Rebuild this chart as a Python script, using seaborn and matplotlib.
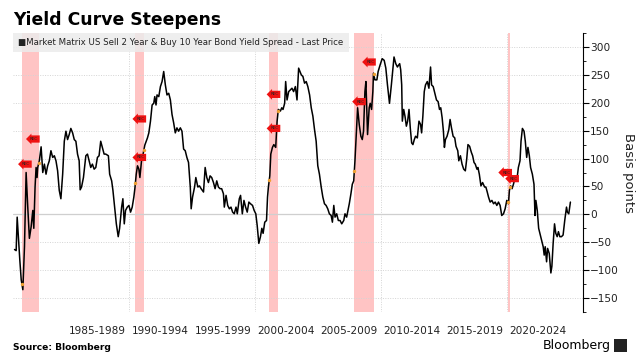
import numpy as np
import matplotlib
matplotlib.use("Agg")
import matplotlib.pyplot as plt
from matplotlib.patches import FancyBboxPatch, Rectangle
import seaborn as sns

# 2s10s spread, decimal years / basis points
yr_1980s = [1980.95, 1981.08, 1981.16, 1981.27, 1981.37, 1981.48, 1981.61, 1981.74, 1981.87, 1982.00,
            1982.13, 1982.27, 1982.40, 1982.48, 1982.58, 1982.66, 1982.74, 1982.79, 1982.92, 1983.06,
            1983.19, 1983.32, 1983.45, 1983.58, 1983.71, 1983.84, 1983.98, 1984.11, 1984.24, 1984.37,
            1984.50, 1984.63, 1984.77, 1984.90, 1985.03, 1985.16, 1985.29, 1985.42, 1985.56, 1985.69,
            1985.82, 1985.95, 1986.08, 1986.16, 1986.27, 1986.42, 1986.61, 1986.74, 1986.87, 1987.00,
            1987.13, 1987.27, 1987.40, 1987.53, 1987.66, 1987.79, 1987.92, 1988.06, 1988.19, 1988.40,
            1988.50, 1988.66, 1988.76, 1988.92, 1989.03, 1989.18, 1989.29, 1989.45, 1989.55, 1989.66,
            1989.76, 1989.90]
bp_1980s = [-63, -65, -5, -46, -82, -117, -135, -58, 75, 13,
            -43, -22, 7, -25, 49, 84, 66, 84, 96, 121,
            75, 90, 72, 87, 96, 114, 102, 105, 96, 78,
            43, 28, 72, 131, 149, 134, 143, 154, 146, 134,
            131, 108, 96, 44, 49, 66, 105, 108, 96, 84,
            90, 81, 84, 102, 105, 131, 120, 108, 108, 105,
            72, 60, 43, 7, -17, -40, -25, 13, 28, -17,
            7, 13]

yr_1990s = [1990.03, 1990.16, 1990.29, 1990.42, 1990.50, 1990.61, 1990.71, 1990.82, 1990.90, 1991.03,
            1991.13, 1991.29, 1991.40, 1991.50, 1991.61, 1991.74, 1991.87, 1992.00, 1992.08, 1992.18,
            1992.26, 1992.40, 1992.53, 1992.66, 1992.79, 1992.92, 1993.05, 1993.19, 1993.32, 1993.45,
            1993.58, 1993.71, 1993.84, 1993.97, 1994.11, 1994.24, 1994.37, 1994.50, 1994.63, 1994.76,
            1994.90, 1994.97, 1995.08, 1995.24, 1995.34, 1995.50, 1995.63, 1995.76, 1995.95, 1996.08,
            1996.21, 1996.34, 1996.47, 1996.60, 1996.74, 1996.87, 1997.00, 1997.13, 1997.26, 1997.39,
            1997.53, 1997.60, 1997.74, 1997.87, 1998.00, 1998.13, 1998.26, 1998.39, 1998.53, 1998.63,
            1998.79, 1998.89, 1999.03, 1999.16, 1999.29, 1999.42, 1999.55, 1999.68, 1999.84, 1999.97]
bp_1990s = [16, 4, 13, 31, 46, 72, 87, 81, 66, 96,
            105, 124, 131, 137, 146, 167, 196, 199, 211, 196,
            214, 211, 229, 238, 256, 232, 214, 217, 205, 179,
            164, 146, 155, 149, 155, 149, 117, 114, 102, 93,
            49, 10, 31, 49, 66, 49, 51, 46, 40, 84,
            66, 57, 69, 66, 57, 46, 60, 49, 46, 46,
            37, 13, 34, 16, 10, 13, 4, 1, 13, 1,
            28, 34, 1, 25, 13, 4, 22, 19, 16, 7]

yr_2000s = [2000.10, 2000.21, 2000.34, 2000.47, 2000.58, 2000.68, 2000.81, 2000.95, 2001.03, 2001.10,
            2001.21, 2001.29, 2001.42, 2001.53, 2001.68, 2001.79, 2001.89, 2002.05, 2002.16, 2002.26,
            2002.39, 2002.47, 2002.58, 2002.71, 2002.84, 2002.97, 2003.10, 2003.24, 2003.37, 2003.50,
            2003.71, 2003.84, 2003.97, 2004.10, 2004.23, 2004.37, 2004.50, 2004.63, 2004.76, 2004.89,
            2005.02, 2005.15, 2005.29, 2005.42, 2005.55, 2005.68, 2005.81, 2005.94, 2006.08, 2006.18,
            2006.29, 2006.39, 2006.52, 2006.65, 2006.79, 2006.92, 2007.08, 2007.18, 2007.31, 2007.39,
            2007.52, 2007.65, 2007.76, 2007.87, 2007.97, 2008.05, 2008.18, 2008.31, 2008.44, 2008.55,
            2008.65, 2008.76, 2008.84, 2008.97, 2009.10, 2009.18, 2009.29, 2009.39, 2009.44, 2009.55,
            2009.71, 2009.81, 2009.97]
bp_2000s = [1, -20, -52, -40, -25, -34, -14, -11, 31, 49,
            69, 108, 120, 125, 120, 167, 188, 185, 191, 188,
            199, 238, 205, 220, 223, 226, 220, 229, 205, 262,
            250, 247, 235, 238, 229, 214, 191, 176, 152, 131,
            87, 72, 49, 31, 19, 16, 10, 1, -2, -14,
            16, -5, 1, -11, -11, -17, -11, 1, -5, 4,
            19, 37, 54, 60, 96, 131, 191, 161, 140, 134,
            149, 220, 238, 143, 191, 199, 188, 220, 253, 241,
            241, 256, 268]

yr_2010s = [2010.13, 2010.29, 2010.42, 2010.55, 2010.71, 2010.86, 2011.07, 2011.21, 2011.34, 2011.42,
            2011.52, 2011.60, 2011.68, 2011.73, 2011.84, 2011.94, 2012.05, 2012.15, 2012.26, 2012.36,
            2012.47, 2012.57, 2012.68, 2012.78, 2012.92, 2013.05, 2013.18, 2013.26, 2013.36, 2013.47,
            2013.57, 2013.71, 2013.84, 2013.97, 2014.05, 2014.18, 2014.31, 2014.44, 2014.57, 2014.68,
            2014.78, 2014.89, 2014.99, 2015.07, 2015.15, 2015.28, 2015.42, 2015.52, 2015.63, 2015.76,
            2015.89, 2015.99, 2016.13, 2016.21, 2016.34, 2016.47, 2016.60, 2016.73, 2016.84, 2016.94,
            2017.07, 2017.21, 2017.31, 2017.42, 2017.52, 2017.65, 2017.73, 2017.84, 2017.97, 2018.10,
            2018.26, 2018.36, 2018.47, 2018.57, 2018.70, 2018.84, 2018.97, 2019.10, 2019.23, 2019.36,
            2019.49, 2019.62, 2019.76, 2019.89]
bp_2010s = [279, 276, 262, 232, 199, 232, 282, 270, 264, 267,
            270, 259, 232, 167, 188, 176, 158, 167, 188, 155,
            128, 125, 134, 140, 137, 167, 161, 146, 176, 220,
            232, 238, 226, 264, 232, 229, 217, 205, 202, 188,
            191, 173, 149, 120, 134, 140, 152, 170, 155, 140,
            137, 122, 114, 96, 105, 90, 81, 78, 99, 125,
            122, 111, 105, 93, 90, 81, 84, 72, 51, 57,
            49, 49, 40, 31, 22, 25, 19, 22, 16, 22,
            16, -2, 1, 10]

yr_2020s = [2020.02, 2020.15, 2020.23, 2020.33, 2020.44, 2020.55, 2020.68, 2020.81, 2020.94, 2021.07,
            2021.15, 2021.26, 2021.39, 2021.49, 2021.60, 2021.70, 2021.81, 2021.91, 2022.05, 2022.18,
            2022.26, 2022.33, 2022.44, 2022.55, 2022.65, 2022.78, 2022.91, 2022.99, 2023.07, 2023.18,
            2023.26, 2023.39, 2023.52, 2023.60, 2023.70, 2023.81, 2023.91, 2024.02, 2024.12, 2024.23,
            2024.36, 2024.49, 2024.62, 2024.76, 2024.83, 2024.94, 2025.07]
bp_2020s = [25, 19, 43, 51, 46, 54, 66, 60, 84, 96,
            131, 154, 149, 131, 102, 120, 105, 84, 72, 54,
            -2, 25, 7, -25, -34, -46, -58, -73, -58, -85,
            -61, -70, -105, -93, -52, -17, -34, -40, -31, -40,
            -40, -37, -11, 13, 4, 1, 22]

# US recessions (start, end)
rec_start = [1981.54, 1990.54, 2001.17, 2007.92, 2020.10]
rec_end = [1982.88, 1991.21, 2001.88, 2009.46, 2020.30]

# "REC" event tags
tag_years = [1981.87, 1982.50, 1990.95, 1990.95, 2001.60, 2001.60, 2008.39, 2009.18, 2019.99, 2020.54]
tag_values = [90, 135, 171, 102, 215, 154, 202, 273, 75, 64]

period_centers = [1987.5, 1992.5, 1997.5, 2002.5, 2007.5, 2012.5, 2017.5, 2022.5]
period_labels = ["1985-1989", "1990-1994", "1995-1999", "2000-2004",
                 "2005-2009", "2010-2014", "2015-2019", "2020-2024"]
y_ticks = [-150, -100, -50, 0, 50, 100, 150, 200, 250, 300]
decade_lines = [1990, 2000, 2010, 2020]

years = np.array(yr_1980s + yr_1990s + yr_2000s + yr_2010s + yr_2020s)
spread = np.array(bp_1980s + bp_1990s + bp_2000s + bp_2010s + bp_2020s)

sns.set_theme(style="white")
plt.rcParams["font.family"] = ["DejaVu Sans"]

fig = plt.figure(figsize=(6.38, 3.57), dpi=100)
ax = fig.add_axes([0.0204, 0.126, 0.8934, 0.7816])

for s, e in zip(rec_start, rec_end):
    ax.axvspan(s, e, color="#ffc4c4", lw=0, zorder=0)

for v in y_ticks:
    if v == 0:
        ax.axhline(0, color="#cfcfcf", lw=0.9, zorder=1)
    else:
        ax.axhline(v, color="#d4d4d4", lw=0.7, ls=(0, (1, 1.5)), zorder=1)
for d in decade_lines:
    ax.axvline(d, color="#d4d4d4", lw=0.7, ls=(0, (1, 1.5)), zorder=1)

sns.lineplot(x=years, y=spread, color="black", lw=1.1, ax=ax, zorder=3)

# markers where recessions begin and end
edges = np.array(rec_start + rec_end)
ax.scatter(edges, np.interp(edges, years, spread), s=6, color="#f0a030", zorder=4, lw=0)

for ty, tv in zip(tag_years, tag_values):
    ax.text(ty, tv, "REC", fontsize=2.9, color="#222222", ha="center", va="center", zorder=6,
            bbox=dict(boxstyle="larrow,pad=0.4", fc="#ee1111", ec="none"))

ax.set_xlim(1980.83, 2026.07)
ax.set_ylim(-174, 321)

ax.yaxis.tick_right()
ax.yaxis.set_label_position("right")
ax.set_yticks(y_ticks)
ax.set_yticks(np.arange(-175, 326, 25), minor=True)
ax.tick_params(axis="y", which="major", direction="out", length=4, width=0.8, color="black",
               labelsize=7.6, labelcolor="#222222", pad=1, right=True)
ax.tick_params(axis="y", which="minor", direction="out", length=2, width=0.6, color="black", right=True)
ax.set_xticks(period_centers)
ax.set_xticklabels(period_labels)
ax.tick_params(axis="x", length=0, labelsize=7.6, labelcolor="#222222", pad=10)
ax.set_xlabel("")
ax.set_ylabel("Basis points", fontsize=9.5, color="#222222", rotation=270, labelpad=12)

for side in ["left", "top", "bottom"]:
    ax.spines[side].set_visible(False)
ax.spines["right"].set_color("black")
ax.spines["right"].set_linewidth(0.8)

# legend strip
ax.add_patch(FancyBboxPatch((0.0, 0.932), 0.59, 0.068, boxstyle="square,pad=0",
                            transform=ax.transAxes, fc="#ececec", ec="none", alpha=0.85, zorder=5))
ax.text(0.008, 0.966, "\u25a0Market Matrix US Sell 2 Year & Buy 10 Year Bond Yield Spread - Last Price",
        transform=ax.transAxes, fontsize=6.2, color="#222222", va="center", ha="left", zorder=6)

fig.text(0.0204, 0.945, "Yield Curve Steepens", fontsize=12.4, fontweight="bold", color="black",
         ha="left", va="center")
fig.text(0.0204, 0.028, "Source: Bloomberg", fontsize=6.6, fontweight="bold", color="black",
         ha="left", va="center")
fig.text(0.958, 0.033, "Bloomberg", fontsize=9, color="black", ha="right", va="center")
fig.patches.append(Rectangle((0.963, 0.015), 0.019, 0.036, transform=fig.transFigure,
                             fc="#222222", ec="none"))

fig.savefig("out.png", dpi=100)
